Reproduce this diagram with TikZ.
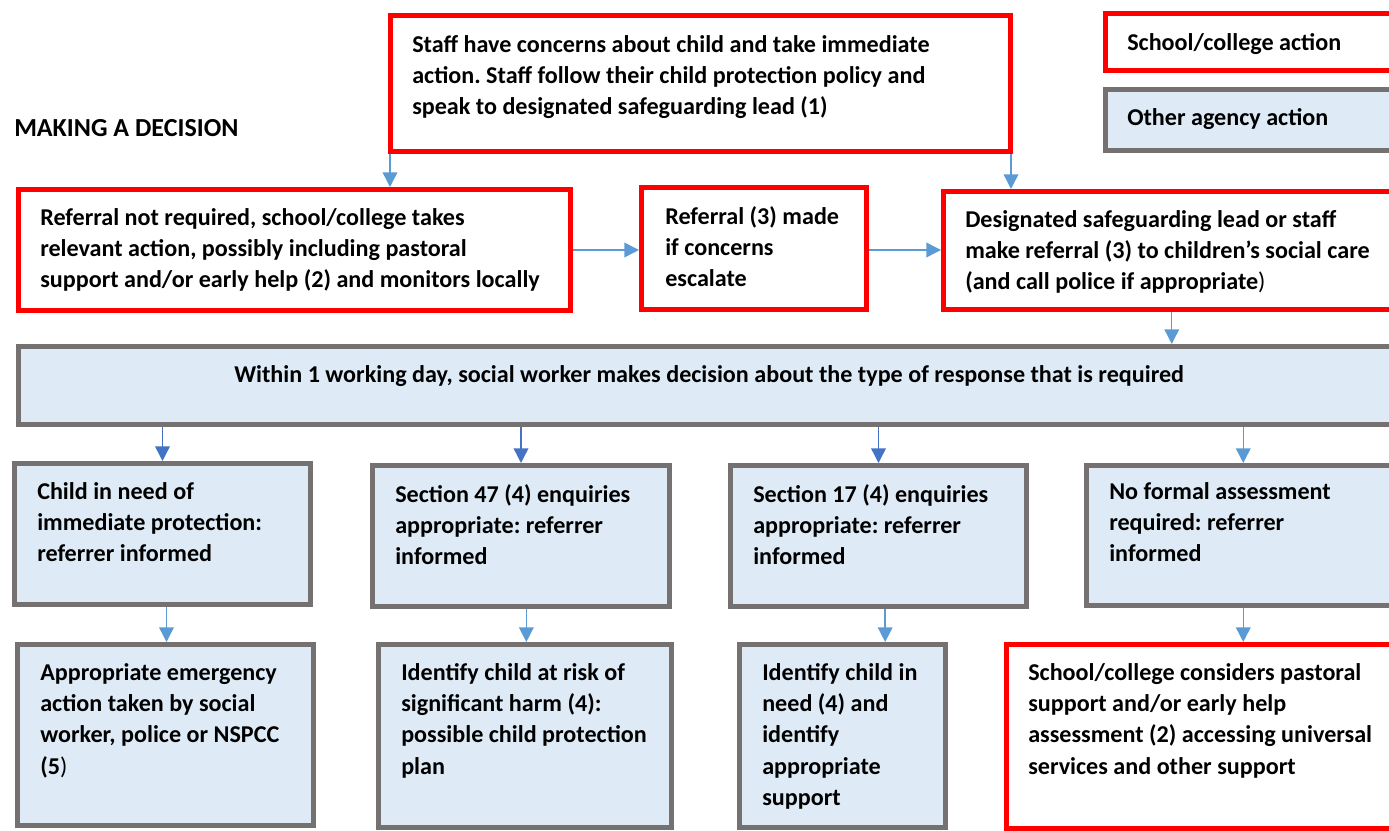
\documentclass[tikz,border=0pt]{standalone}
\usepackage{fontspec}
\setmainfont{Carlito}
\usetikzlibrary{arrows.meta,fit}

\definecolor{redline}{RGB}{255,0,0}
\definecolor{greyline}{RGB}{118,113,113}
\definecolor{boxfill}{RGB}{222,235,247}
\definecolor{arrlight}{RGB}{91,155,213}
\definecolor{arrdark}{RGB}{68,114,196}

\tikzset{
  schoolbox/.style={draw=redline, line width=3.75pt, fill=white, inner sep=0pt},
  agencybox/.style={draw=greyline, line width=3.75pt, fill=boxfill, inner sep=0pt},
  txt/.style={anchor=north west, align=left, inner sep=0pt, font=\fontsize{18.1pt}{23.5pt}\selectfont\bfseries\frenchspacing},
  arr/.style={draw=arrlight, line width=1.1pt, -{Triangle[length=11pt,width=11pt]}},
  arrd/.style={arr, draw=arrdark}
}

\begin{document}
\begin{tikzpicture}[x=0.75pt,y=0.75pt,yscale=-1,xscale=1]
\path[use as bounding box] (0,0) rectangle (1389,831);
\clip (0,0) rectangle (1389,831);

% boxes
\node[schoolbox, fit={(390.5,15.5) (1010.5,151.5)}] (concern) {};
\node[schoolbox, fit={(1105.5,13.5) (1400,70.5)}] (keyschool) {};
\node[agencybox, fit={(1105.5,89.5) (1400,150.5)}] (keyagency) {};
\node[schoolbox, fit={(18.5,189.5) (570.5,310.5)}] (noref) {};
\node[schoolbox, fit={(641.5,187.5) (866.5,309.5)}] (escalate) {};
\node[schoolbox, fit={(943.5,191.5) (1400,309.5)}] (dslref) {};
\node[agencybox, fit={(18.5,346.5) (1400,424.5)}] (decision) {};
\node[agencybox, fit={(14.5,463.5) (310.5,604.5)}] (immed) {};
\node[agencybox, fit={(372.5,465.5) (669.5,606.5)}] (sfortyseven) {};
\node[agencybox, fit={(730.5,465.5) (1026.5,606.5)}] (sseventeen) {};
\node[agencybox, fit={(1086.5,465.5) (1400,605.5)}] (noformal) {};
\node[agencybox, fit={(17.5,644.5) (313.5,825.5)}] (emergency) {};
\node[agencybox, fit={(378.5,644.5) (671.5,827.5)}] (riskharm) {};
\node[agencybox, fit={(739.5,644.5) (945.5,827.5)}] (inneed) {};
\node[schoolbox, fit={(1006.5,644.5) (1400,828.5)}] (pastoral) {};

% texts
\node[txt, font=\fontsize{19.5pt}{23.5pt}\selectfont\bfseries] (title) at (14,119) {MAKING A DECISION};
\node[txt] (t-concern) at (412,35) {Staff have concerns about child and take immediate\\action. Staff follow their child protection policy and\\speak to designated safeguarding lead (1)};
\node[txt] (t-keyschool) at (1127,33) {School/college action};
\node[txt] (t-keyagency) at (1127,108) {Other agency action};
\node[txt] (t-noref) at (40,208) {Referral not required, school/college takes\\relevant action, possibly including pastoral\\support and/or early help (2) and monitors locally};
\node[txt] (t-escalate) at (665,206) {Referral (3) made\\if concerns\\escalate};
\node[txt] (t-dslref) at (965,210) {Designated safeguarding lead or staff\\make referral (3) to children’s social care\\(and call police if appropriate{\mdseries )}};
\node[txt] (t-decision) at (234,365) {Within 1 working day, social worker makes decision about the type of response that is required};
\node[txt] (t-immed) at (37,482) {Child in need of\\immediate protection:\\referrer informed};
\node[txt] (t-sfortyseven) at (395,484) {Section 47 (4) enquiries\\appropriate: referrer\\informed};
\node[txt] (t-sseventeen) at (753,484) {Section 17 (4) enquiries\\appropriate: referrer\\informed};
\node[txt] (t-noformal) at (1109,482) {No formal assessment\\required: referrer\\informed};
\node[txt] (t-emergency) at (40,663) {Appropriate emergency\\action taken by social\\worker, police or NSPCC\\(5{\mdseries )}};
\node[txt] (t-riskharm) at (401,663) {Identify child at risk of\\significant harm (4):\\possible child protection\\plan};
\node[txt] (t-inneed) at (762,663) {Identify child in\\need (4) and\\identify\\appropriate\\support};
\node[txt] (t-pastoral) at (1028,663) {School/college considers pastoral\\support and/or early help\\assessment (2) accessing universal\\services and other support};

% connectors
\draw[arr] ([xshift=1.5pt]concern.south west) -- ([xshift=1.5pt]concern.south west |- noref.north);
\draw[arr] ([xshift=-1.5pt]concern.south east) -- ([xshift=-1.5pt]concern.south east |- dslref.north);
\draw[arr] (noref.east) -- (noref.east -| escalate.west);
\draw[arr] (escalate.east |- noref.east) -- (noref.east -| dslref.west);
\draw[arr] (dslref.south) -- (dslref.south |- decision.north);
\draw[arrd] (immed.north |- decision.south) -- (immed.north);
\draw[arrd] (sfortyseven.north |- decision.south) -- (sfortyseven.north);
\draw[arrd] (sseventeen.north |- decision.south) -- (sseventeen.north);
\draw[arr] (noformal.north |- decision.south) -- (noformal.north);
\draw[arr] ([xshift=3pt]immed.south) -- ([xshift=3pt]immed.south |- emergency.north);
\draw[arr] ([xshift=4pt]sfortyseven.south) -- ([xshift=4pt]sfortyseven.south |- riskharm.north);
\draw[arr] ([xshift=5pt]sseventeen.south) -- ([xshift=5pt]sseventeen.south |- inneed.north);
\draw[arr] (noformal.south) -- (noformal.south |- pastoral.north);

\end{tikzpicture}
\end{document}
